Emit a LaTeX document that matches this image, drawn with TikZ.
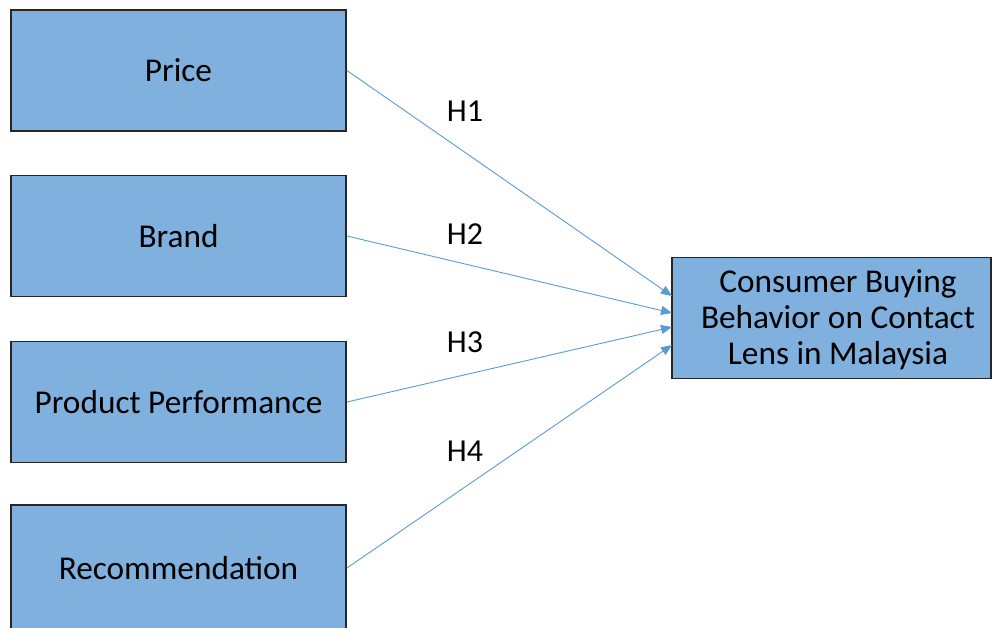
\documentclass[tikz,border=0pt]{standalone}
\usepackage{fontspec}
\setmainfont{Carlito}
\usetikzlibrary{arrows.meta}
\definecolor{boxfill}{HTML}{80B0DD}
\definecolor{arrowblue}{HTML}{5B9BD5}
\begin{document}
\begin{tikzpicture}[x=1pt,y=-1pt,
  leftbox/.style={draw=black!85,line width=1.8pt,fill=boxfill,minimum width=335pt,minimum height=121pt,inner sep=0pt,font=\fontsize{33.3}{36}\selectfont},
  rightbox/.style={draw=black!85,line width=1.8pt,fill=boxfill,minimum width=319pt,minimum height=121pt,inner sep=0pt,align=center,font=\fontsize{33.3}{36}\selectfont},
  hlabel/.style={font=\fontsize{32}{36}\selectfont,inner sep=0pt},
  conn/.style={draw=arrowblue,line width=0.9pt,-{Triangle[length=11pt,width=9pt]}}]
\useasboundingbox (0,0) rectangle (992,628);
\fill[white] (0,0) rectangle (992,628);
\node[leftbox] (price) at (178.5,70.5) {Price};
\node[leftbox] (brand) at (178.5,236) {Brand};
\node[leftbox] (perf) at (178.5,402) {Product Performance};
\node[leftbox,minimum height=126pt] (rec) at (178.5,568) {Recommendation};
\node[rightbox] (cbb) at (831.5,318) {};
\node[align=center,inner sep=0pt,font=\fontsize{33.3}{36}\selectfont] (cbbtext) at (838,320) {Consumer Buying\\Behavior on Contact\\Lens in Malaysia};
\coordinate (e1) at (672,296);
\coordinate (e2) at (672,313);
\coordinate (e3) at (672,327);
\coordinate (e4) at (672,345);
\draw[conn] (price.east) -- (e1);
\draw[conn] (brand.east) -- (e2);
\draw[conn] (perf.east) -- (e3);
\draw[conn] (rec.east) -- (e4);
\node[hlabel] (h1) at (465,111) {H1};
\node[hlabel] (h2) at (465,234) {H2};
\node[hlabel] (h3) at (465,342) {H3};
\node[hlabel] (h4) at (465,451) {H4};
\end{tikzpicture}
\end{document}
